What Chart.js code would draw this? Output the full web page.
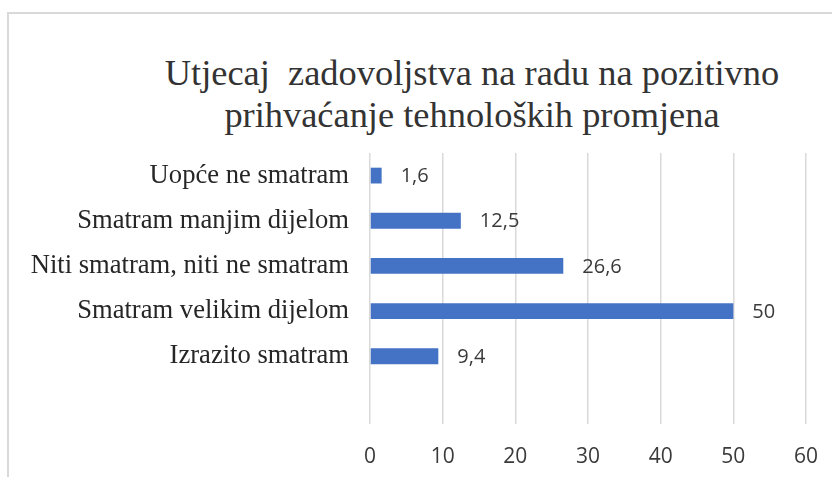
<!DOCTYPE html>
<html>
<head>
<meta charset="utf-8">
<script src="https://cdn.jsdelivr.net/npm/chart.js@4/dist/chart.umd.min.js"></script>
<style>
  html, body { margin: 0; padding: 0; background: #fff; }
  #wrap { position: relative; width: 832px; height: 477px; overflow: hidden; }
  #frame { position: absolute; left: 7px; top: 12px; width: 900px; height: 600px;
           border-top: 2px solid #d9d9d9; border-left: 2px solid #d9d9d9; }
  #title { position: absolute; left: 0; top: 52px; width: 944px; text-align: center;
           font-family: "Liberation Serif"; font-size: 36.4px; line-height: 42px; color: #333; }
  canvas { position: absolute; left: 0; top: 0; }
</style>
</head>
<body>
<div id="wrap">
  <div id="frame"></div>
  <div id="title"></div>
  <canvas id="myChart" width="832" height="477"></canvas>
</div>
<script>
// podaci grafikona
const categories = ['Uopće ne smatram', 'Smatram manjim dijelom', 'Niti smatram, niti ne smatram', 'Smatram velikim dijelom', 'Izrazito smatram', ''];
const values = [1.6, 12.5, 26.6, 50, 9.4, null];
const xTicks = [0, 10, 20, 30, 40, 50, 60];
const titleLines = ['Utjecaj\u00a0 zadovoljstva na radu na pozitivno', 'prihvaćanje tehnoloških promjena'];

// naslov
const titleEl = document.getElementById('title');
titleLines.forEach(line => {
  const d = document.createElement('div');
  d.textContent = line;
  titleEl.appendChild(d);
});

// oznake vrijednosti desno od stupaca
const valueLabels = {
  id: 'valueLabels',
  afterDatasetsDraw(chart) {
    const ctx = chart.ctx;
    const meta = chart.getDatasetMeta(0);
    ctx.save();
    ctx.font = '20px "Open Sans"';
    ctx.fillStyle = '#3a3a3a';
    ctx.textAlign = 'left';
    ctx.textBaseline = 'middle';
    meta.data.forEach((bar, i) => {
      if (values[i] === null) return;
      ctx.fillText(String(values[i]).replace('.', ','), bar.x + 19, bar.y + 1);
    });
    ctx.restore();
  }
};

var ctx = document.getElementById('myChart').getContext('2d');
var myChart = new Chart(ctx, {
  type: 'bar',
  data: {
    labels: categories,
    datasets: [{
      data: values,
      backgroundColor: '#4472c4',
      borderWidth: 0,
      barPercentage: 0.35,
      categoryPercentage: 1
    }]
  },
  options: {
    indexAxis: 'y',
    responsive: false,
    animation: false,
    layout: {
      padding: { left: 8, right: 26, top: 153, bottom: 0 }
    },
    plugins: {
      legend: { display: false },
      tooltip: { enabled: false },
      title: { display: false }
    },
    scales: {
      x: {
        min: 0,
        max: 60,
        afterBuildTicks(scale) {
          scale.ticks = xTicks.map(v => ({ value: v }));
        },
        afterFit(scale) {
          scale.height = 53;
          scale.paddingLeft = 0;
          scale.paddingRight = 0;
        },
        grid: { color: '#d9d9d9', lineWidth: 1.5, drawTicks: false },
        border: { display: false },
        ticks: {
          color: '#3a3a3a',
          padding: 20,
          font: { family: '"Open Sans"', size: 21 }
        }
      },
      y: {
        grid: { display: false, drawTicks: false },
        border: { display: false },
        afterFit(scale) { scale.width = 362; },
        ticks: {
          color: '#262626',
          padding: 21,
          font: { family: '"Liberation Serif"', size: 26.6 }
        }
      }
    }
  },
  plugins: [valueLabels]
});
</script>
</body>
</html>
